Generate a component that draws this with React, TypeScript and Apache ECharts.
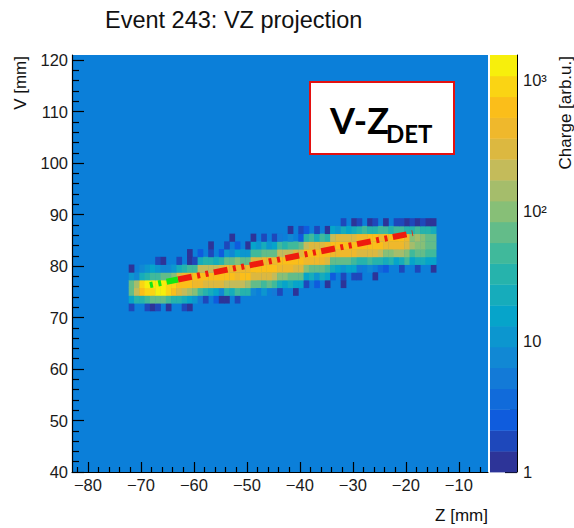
import React, { useEffect, useRef } from 'react';
import * as echarts from 'echarts';

// ---------- data ----------
const TITLE = 'Event 243: VZ projection';
const X_TITLE = 'Z [mm]';
const Y_TITLE = 'V [mm]';
const Z_TITLE = 'Charge [arb.u.]';

const Z_MIN = -83;
const Z_MAX = -4.5;
const V_MIN = 40;
const V_MAX = 121;
const Z_MAJOR = [-80, -70, -60, -50, -40, -30, -20, -10];
const V_MAJOR = [40, 50, 60, 70, 80, 90, 100, 110, 120];
const CHARGE_MAX_LOG = 3.19; // colour scale from 1 to ~1550 (log10)
const CHARGE_MAJOR = [0, 1, 2, 3];
const CHARGE_LABELS = ['1', '10', '10²', '10³'];

// histogram bins
const Z_START = -72.3;
const Z_STEP = 1.0;
const V_START = 71.3;
const V_STEP = 1.5;
// colour level per bin (0..19 = band of the log colour scale, '.' = empty); rows from low V to high V
const LEVEL_CODES = '0123456789abcdefghij';
const ROWS = [
  '1. .101.0. .10. ..... ..... ..... ..... ..... ..... ..... ..... .....',
  '79 9abbba9 9876 41.20 0.1.. ..... ..... ..... ..... ..... ..... .....',
  'be hiijjih fedc a9875 98a99 5.6.4 1..0. ..... ..... ..... ..... .....',
  'bd ijjjjii hhhg gffff eeeed bbaba 87877 1.2.0 ..0.. ..... ..... .....',
  '65 89aabbc fggh hhhhh hhghh ffffe ccbbb 78687 2.1.1 1..0. ..... .....',
  '0. 5676556 89aa eeeef ggggg hhhhh gggff cbbba 87677 4.5.3 2..1. .1..0',
  '.. ...10.. 1.01 89989 bbcbb ffggg hhhhh ggggf bbbba 99a99 8978a 78877',
  '.. ....... ..0. 2.1.2 65766 aabbb eeeff hhhhh ggggg ffffe ccddc abbaa',
  '.. ....... .... ..0.. 1.2.0 76867 a9aab efffg hhhhh hhhhh ggggf dccbb',
  '.. ....... .... ..... .0... 0.1.1 4.5.2 9a8a9 effff gghhg hhhhg cdcbb',
  '.. ....... .... ..... ..... ..... ..0.1 2.1.0 76878 9a99a a9aa9 9a998',
  '.. ....... .... ..... ..... ..... ..... ..... ..1.0 1.01. 0.110 10100',
];

// fitted track line (green start, red remainder)
const FIT_Z = [-68.3, -63.0, -18.7];
const FIT_V = [76.3, 77.4, 86.4];

// ---------- style ----------
const PALETTE = [
  '#2d3498', '#1e48bb', '#0f5cdd', '#116bda', '#137ad7', '#1188d4', '#0c96cf', '#06a4ca', '#16acbb', '#26b3ac',
  '#40b99b', '#63bc89', '#87bf77', '#a5bd6b', '#c4bb5a', '#dcb840', '#efb82c', '#fbbe1a', '#fad414', '#f7ef0c',
];
const BG = '#0b7fd9';
const FONT = 'Liberation Sans';

function buildCells() {
  const cells: number[][] = [];
  ROWS.forEach((row, r) => {
    const s = row.replace(/ /g, '');
    for (let c = 0; c < s.length; c++) {
      const ch = s[c];
      if (ch === '.') continue;
      const lv = LEVEL_CODES.indexOf(ch);
      cells.push([Z_START + (c + 0.5) * Z_STEP, V_START + (r + 0.5) * V_STEP, lv]);
    }
  });
  return cells;
}

function minorTicks(lo: number, hi: number, step: number, majorStep: number) {
  const out: number[] = [];
  for (let v = lo; v <= hi + 1e-9; v += step) {
    if (Math.abs(v / majorStep - Math.round(v / majorStep)) > 1e-6) out.push(Math.round(v * 1000) / 1000);
  }
  return out;
}

function logMinor() {
  const out: number[] = [];
  for (let e = 0; e < 4; e++) {
    for (let m = 2; m <= 9; m++) {
      const l = Math.log10(m * Math.pow(10, e));
      if (l <= CHARGE_MAX_LOG) out.push(l);
    }
  }
  return out;
}

const fmtMinus = (v: number) => (v < 0 ? '\u2212' + Math.abs(v) : String(v));

export default function App() {
  const ref = useRef<HTMLDivElement>(null);
  useEffect(() => {
    if (!ref.current) return;
    const chart = echarts.init(ref.current, undefined, { renderer: 'svg' });
    const cells = buildCells();
    const labelStyle = { fontFamily: FONT, fontSize: 16.5, color: '#1a1a1a' };
    const tickLine = { color: '#000', width: 1.2 };
    const option: any = {
      animation: false,
      backgroundColor: '#ffffff',
      title: {
        text: TITLE,
        left: 105,
        top: 8,
        padding: 0,
        textStyle: { fontFamily: FONT, fontSize: 23.5, fontWeight: 'normal', color: '#111' },
      },
      grid: [
        { left: 72, top: 55, width: 416, height: 417, show: true, backgroundColor: BG, borderWidth: 0 },
        { left: 490, top: 55, width: 27, height: 417, show: false },
      ],
      xAxis: [
        {
          gridIndex: 0, type: 'value', min: Z_MIN, max: Z_MAX, position: 'bottom',
          axisLine: { show: true, onZero: false, lineStyle: tickLine },
          axisTick: { show: true, inside: true, length: 10, customValues: Z_MAJOR, lineStyle: tickLine },
          axisLabel: { customValues: Z_MAJOR, formatter: fmtMinus, margin: 4, ...labelStyle },
          splitLine: { show: false },
        },
        {
          gridIndex: 0, type: 'value', min: Z_MIN, max: Z_MAX, position: 'bottom',
          axisLine: { show: false, onZero: false },
          axisTick: { show: true, inside: true, length: 5, customValues: minorTicks(-82, -6, 2, 10), lineStyle: tickLine },
          axisLabel: { show: false },
          splitLine: { show: false },
        },
        { gridIndex: 1, type: 'value', min: 0, max: 1, show: false },
      ],
      yAxis: [
        {
          gridIndex: 0, type: 'value', min: V_MIN, max: V_MAX, position: 'left',
          axisLine: { show: true, onZero: false, lineStyle: tickLine },
          axisTick: { show: true, inside: true, length: 12, customValues: V_MAJOR, lineStyle: tickLine },
          axisLabel: { customValues: V_MAJOR, margin: 4, ...labelStyle },
          splitLine: { show: false },
        },
        {
          gridIndex: 0, type: 'value', min: V_MIN, max: V_MAX, position: 'left',
          axisLine: { show: false, onZero: false },
          axisTick: { show: true, inside: true, length: 7, customValues: minorTicks(42, 120, 2, 10), lineStyle: tickLine },
          axisLabel: { show: false },
          splitLine: { show: false },
        },
        {
          gridIndex: 1, type: 'value', min: 0, max: CHARGE_MAX_LOG, position: 'right',
          axisLine: { show: true, onZero: false, lineStyle: { color: '#000', width: 1 } },
          axisTick: { show: true, inside: true, length: 12, customValues: CHARGE_MAJOR, lineStyle: tickLine },
          axisLabel: {
            customValues: CHARGE_MAJOR, margin: 6, ...labelStyle,
            formatter: (v: number) => CHARGE_LABELS[Math.round(v)],
          },
          splitLine: { show: false },
        },
        {
          gridIndex: 1, type: 'value', min: 0, max: CHARGE_MAX_LOG, position: 'right',
          axisLine: { show: false, onZero: false },
          axisTick: { show: true, inside: true, length: 7, customValues: logMinor(), lineStyle: tickLine },
          axisLabel: { show: false },
          splitLine: { show: false },
        },
      ],
      series: [
        {
          type: 'custom', xAxisIndex: 0, yAxisIndex: 0, z: 2, silent: true,
          data: cells,
          renderItem: (_p: any, api: any) => {
            const z = api.value(0);
            const v = api.value(1);
            const lv = api.value(2);
            const a = api.coord([z - Z_STEP / 2, v + V_STEP / 2]);
            const b = api.coord([z + Z_STEP / 2, v - V_STEP / 2]);
            return {
              type: 'rect',
              shape: { x: a[0], y: a[1], width: b[0] - a[0] + 0.4, height: b[1] - a[1] + 0.4 },
              style: { fill: PALETTE[lv] },
            };
          },
        },
        {
          type: 'custom', xAxisIndex: 2, yAxisIndex: 2, z: 2, silent: true,
          data: PALETTE.map((_c, k) => [0.5, k]),
          renderItem: (_p: any, api: any) => {
            const k = api.value(1);
            const lo = (k * CHARGE_MAX_LOG) / PALETTE.length;
            const hi = ((k + 1) * CHARGE_MAX_LOG) / PALETTE.length;
            const a = api.coord([0, hi]);
            const b = api.coord([1, lo]);
            return {
              type: 'rect',
              shape: { x: a[0], y: a[1], width: b[0] - a[0], height: b[1] - a[1] + 0.4 },
              style: { fill: PALETTE[k] },
            };
          },
        },
        {
          type: 'line', xAxisIndex: 0, yAxisIndex: 0, z: 5, silent: true, symbol: 'none',
          data: [[FIT_Z[1], FIT_V[1]], [FIT_Z[2], FIT_V[2]]],
          lineStyle: { color: '#ee1c0e', width: 6, type: [14, 5.5, 3, 5.5, 3, 5.5], cap: 'butt' },
        },
        {
          type: 'line', xAxisIndex: 0, yAxisIndex: 0, z: 5, silent: true, symbol: 'none',
          data: [[FIT_Z[0], FIT_V[0]], [FIT_Z[1], FIT_V[1]]],
          lineStyle: { color: '#14e614', width: 6, type: [3, 5.5, 3, 5.5, 14, 5.5], cap: 'butt' },
        },
      ],
      graphic: [
        {
          type: 'text', x: 20, y: 56, rotation: Math.PI / 2,
          style: { text: Y_TITLE, font: `17px "${FONT}"`, fill: '#111', align: 'right', verticalAlign: 'middle', textAlign: 'right', textVerticalAlign: 'middle' },
        },
        {
          type: 'text', x: 488, y: 515,
          style: { text: X_TITLE, font: `17px "${FONT}"`, fill: '#111', align: 'right', verticalAlign: 'middle', textAlign: 'right', textVerticalAlign: 'middle' },
        },
        {
          type: 'text', x: 565, y: 56, rotation: Math.PI / 2,
          style: { text: Z_TITLE, font: `17px "${FONT}"`, fill: '#111', align: 'right', verticalAlign: 'middle', textAlign: 'right', textVerticalAlign: 'middle' },
        },
        {
          type: 'rect', z: 10,
          shape: { x: 310, y: 82, width: 144, height: 72 },
          style: { fill: '#ffffff', stroke: '#e41010', lineWidth: 2 },
        },
        {
          type: 'text', z: 11, x: 330, y: 120,
          style: { text: 'V-Z', font: 'bold 36px Lato', fill: '#000', align: 'left', verticalAlign: 'middle', textAlign: 'left', textVerticalAlign: 'middle' },
        },
        {
          type: 'text', z: 11, x: 386, y: 133,
          style: { text: 'DET', font: 'bold 24px Lato', fill: '#000', align: 'left', verticalAlign: 'middle', textAlign: 'left', textVerticalAlign: 'middle' },
        },
      ],
    };
    chart.setOption(option);
    return () => chart.dispose();
  }, []);
  return <div ref={ref} style={{ position: 'fixed', left: 0, top: 0, width: 574, height: 528 }} />;
}
